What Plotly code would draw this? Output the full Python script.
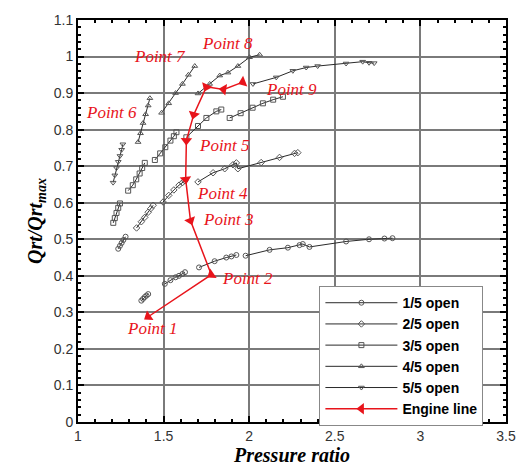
import math
import plotly.graph_objects as go

# ---------------- data ----------------
# each series holds several speed-line segments; None separates segments
open1_x = [1.37, 1.38, 1.39, 1.40, 1.41, None,
           1.235, 1.245, 1.255, 1.265, 1.278, None,
           1.507, 1.54, 1.57, 1.59, 1.61, 1.625, None,
           1.707, 1.798, 1.866, 1.896, 1.925, None,
           1.979, 2.119, 2.226, 2.294, 2.313, 2.352, 2.566, 2.70, 2.79, 2.837]
open1_y = [0.332, 0.337, 0.342, 0.346, 0.350, None,
           0.474, 0.482, 0.490, 0.498, 0.507, None,
           0.378, 0.388, 0.396, 0.400, 0.405, 0.410, None,
           0.423, 0.440, 0.450, 0.453, 0.457, None,
           0.455, 0.471, 0.477, 0.484, 0.487, 0.479, 0.494, 0.500, 0.502, 0.503]

open2_x = [1.342, 1.37, 1.39, 1.41, 1.425, 1.439, None,
           1.497, 1.53, 1.56, 1.59, 1.61, 1.624, None,
           1.701, 1.789, 1.857, 1.905, 1.925, 1.934, 2.07, 2.177, 2.265, 2.284]
open2_y = [0.531, 0.548, 0.560, 0.574, 0.584, 0.593, None,
           0.602, 0.620, 0.635, 0.648, 0.655, 0.660, None,
           0.657, 0.682, 0.693, 0.704, 0.709, 0.693, 0.710, 0.724, 0.735, 0.737]

open3_x = [1.206, 1.215, 1.225, 1.235, 1.245, None,
           1.293, 1.32, 1.34, 1.36, 1.375, 1.39, None,
           1.449, 1.48, 1.51, 1.54, 1.56, 1.575, None,
           1.633, 1.701, 1.75, 1.808, 1.837, None,
           1.886, 1.95, 2.02, 2.08, 2.14, 2.197]
open3_y = [0.545, 0.558, 0.572, 0.586, 0.598, None,
           0.633, 0.648, 0.664, 0.680, 0.695, 0.709, None,
           0.717, 0.735, 0.752, 0.770, 0.782, 0.793, None,
           0.779, 0.810, 0.832, 0.850, 0.855, None,
           0.832, 0.845, 0.860, 0.872, 0.882, 0.890]

open4_x = [1.351, 1.365, 1.38, 1.395, 1.41, 1.42, None,
           1.488, 1.53, 1.57, 1.61, 1.645, 1.682, None,
           1.701, 1.769, 1.828, 1.876, 1.934, 2.002, 2.061]
open4_y = [0.766, 0.790, 0.818, 0.842, 0.866, 0.886, None,
           0.846, 0.872, 0.900, 0.925, 0.950, 0.974, None,
           0.899, 0.925, 0.948, 0.956, 0.974, 0.998, 1.005]

open5_x = [1.205, 1.215, 1.225, 1.235, 1.245, 1.255, 1.262, None,
           2.022, 2.158, 2.255, 2.333, 2.40, 2.566, 2.663, 2.70, 2.73]
open5_y = [0.655, 0.675, 0.695, 0.712, 0.728, 0.745, 0.760, None,
           0.925, 0.943, 0.961, 0.970, 0.974, 0.981, 0.986, 0.983, 0.982]

engine_x = [1.41, 1.779, 1.657, 1.629, 1.633, 1.676, 1.75, 1.851, 1.963]
engine_y = [0.288, 0.403, 0.551, 0.664, 0.770, 0.841, 0.917, 0.910, 0.930]

label_text = ["Point 1", "Point 2", "Point 3", "Point 4", "Point 5",
              "Point 6", "Point 7", "Point 8", "Point 9"]
label_x = [1.434, 1.988, 1.88, 1.842, 1.857, 1.198, 1.478, 1.871, 2.245]
label_y = [0.257, 0.394, 0.553, 0.624, 0.757, 0.848, 0.999, 1.036, 0.911]

series_names = ["1/5 open", "2/5 open", "3/5 open", "4/5 open", "5/5 open"]
series_x = [open1_x, open2_x, open3_x, open4_x, open5_x]
series_y = [open1_y, open2_y, open3_y, open4_y, open5_y]
series_symbols = ["circle-open", "diamond-open", "square-open",
                  "triangle-up-open", "triangle-down-open"]

# ---------------- layout geometry ----------------
W, H = 528, 472
ML, MR, MT, MB = 78, 21, 16, 42
X_RANGE = [1, 3.5]
Y_RANGE = [0, 1.1]
px_per_x = (W - ML - MR) / (X_RANGE[1] - X_RANGE[0])
px_per_y = (H - MT - MB) / (Y_RANGE[1] - Y_RANGE[0])

# arrowheads point along the engine line toward Point 1
engine_angles = []
n = len(engine_x)
for i in range(n):
    if i == 0:
        dx = engine_x[0] - engine_x[1]
        dy = engine_y[0] - engine_y[1]
    else:
        dx = engine_x[i - 1] - engine_x[i]
        dy = engine_y[i - 1] - engine_y[i]
    engine_angles.append(math.degrees(math.atan2(dx * px_per_x, dy * px_per_y)))

# ---------------- figure ----------------
fig = go.Figure()

for name, xs, ys, sym in zip(series_names, series_x, series_y, series_symbols):
    fig.add_trace(go.Scatter(
        x=xs, y=ys, name=name, mode="lines+markers",
        line=dict(color="#2a2a2a", width=1),
        marker=dict(symbol=sym, size=5, color="#555555",
                    line=dict(width=1, color="#555555")),
    ))

fig.add_trace(go.Scatter(
    x=engine_x, y=engine_y, name="Engine line", mode="lines+markers",
    showlegend=False,
    line=dict(color="#e8141b", width=1.5),
    marker=dict(symbol="triangle-up", size=10, color="#e8141b",
                angle=engine_angles),
))
fig.add_trace(go.Scatter(
    x=[None], y=[None], name="Engine line", mode="lines+markers",
    line=dict(color="#e8141b", width=1.5),
    marker=dict(symbol="triangle-left", size=10, color="#e8141b"),
))

for t, lx, ly in zip(label_text, label_x, label_y):
    fig.add_annotation(
        x=lx, y=ly, text="<i>" + t + "</i>", showarrow=False,
        font=dict(family="Liberation Serif", size=17, color="#e8141b"),
        xanchor="center", yanchor="middle",
    )

axis_common = dict(
    showline=True, linecolor="black", linewidth=2, mirror="allticks",
    ticks="inside", ticklen=6, tickwidth=1.5, tickcolor="black",
    showgrid=True, gridcolor="#7a7a7a", gridwidth=1.5, zeroline=False,
    tickfont=dict(family="Liberation Sans", size=14, color="#333333"),
)

fig.update_xaxes(
    range=X_RANGE, dtick=0.5, tick0=1,
    minor=dict(dtick=0.1, ticks="inside", ticklen=3, tickcolor="black", showgrid=False),
    title=dict(text="<b><i>Pressure ratio</i></b>", standoff=2,
               font=dict(family="Liberation Serif", size=20, color="black")),
    **axis_common,
)
fig.update_yaxes(
    range=Y_RANGE, dtick=0.1, tick0=0,
    minor=dict(dtick=0.02, ticks="inside", ticklen=3, tickcolor="black", showgrid=False),
    title=dict(text="<b><i>Qrt/Qrt<sub>max</sub></i></b>", standoff=6,
               font=dict(family="Liberation Serif", size=20, color="black")),
    **axis_common,
)

fig.update_layout(
    width=W, height=H,
    margin=dict(l=ML, r=MR, t=MT, b=MB),
    paper_bgcolor="white", plot_bgcolor="white",
    legend=dict(
        x=0.564, y=0.338, xanchor="left", yanchor="top",
        bgcolor="white", bordercolor="#888888", borderwidth=1,
        font=dict(family="Liberation Sans", size=14, color="black"),
        itemwidth=72, tracegroupgap=0,
    ),
    showlegend=True,
)

# legend text bold
for tr in fig.data:
    if tr.name:
        tr.name = "<b>" + tr.name + "</b>"

fig.write_html(
    "out.html",
    config={"displayModeBar": False},
    post_script="document.body.style.margin='0';document.body.style.overflow='hidden';",
)
